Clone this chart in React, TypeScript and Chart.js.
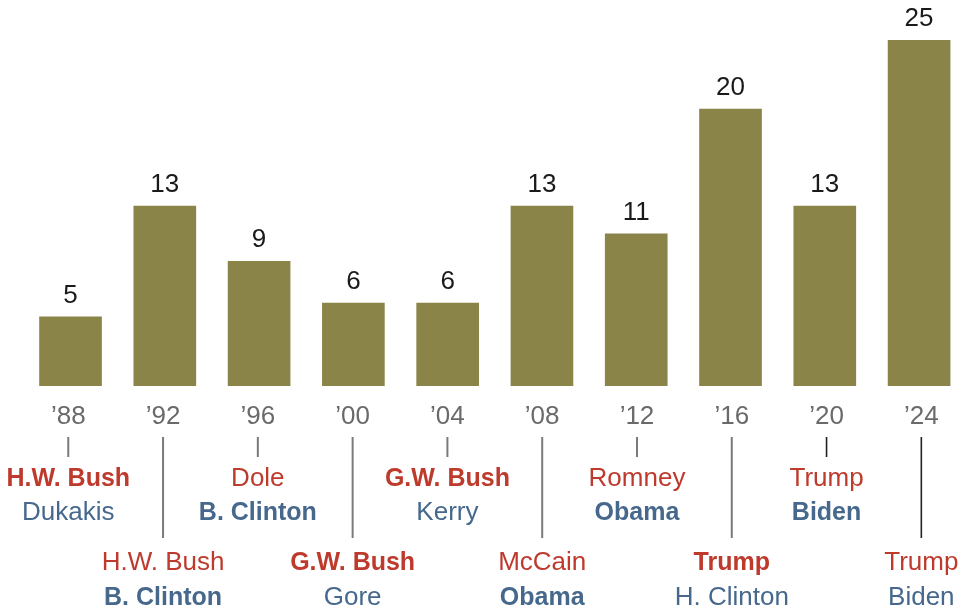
import React, { useEffect, useRef } from "react";
import { Chart, registerables } from "chart.js";

Chart.register(...registerables);

const years = ["\u201988", "\u201992", "\u201996", "\u201900", "\u201904", "\u201908", "\u201912", "\u201916", "\u201920", "\u201924"];
const values = [5, 13, 9, 6, 6, 13, 11, 20, 13, 25];
const repNames = ["H.W. Bush", "H.W. Bush", "Dole", "G.W. Bush", "G.W. Bush", "McCain", "Romney", "Trump", "Trump", "Trump"];
const demNames = ["Dukakis", "B. Clinton", "B. Clinton", "Gore", "Kerry", "Obama", "Obama", "H. Clinton", "Biden", "Biden"];
const winners = ["R", "D", "D", "R", "R", "D", "D", "R", "D", ""];

const BAR = "#8a8449";
const RED = "#bd3a2c";
const BLUE = "#46688c";
const YEAR_GRAY = "#6a6a6a";
const FONT = '"Liberation Sans", Arial, sans-serif';

const labelsPlugin = {
  id: "customLabels",
  afterDraw(chart: any) {
    const ctx = chart.ctx;
    const meta = chart.getDatasetMeta(0);
    const xs = chart.scales.x;
    ctx.save();
    ctx.textAlign = "center";
    ctx.textBaseline = "alphabetic";
    meta.data.forEach((bar: any, i: number) => {
      ctx.fillStyle = "#1a1a1a";
      ctx.font = `26px ${FONT}`;
      ctx.fillText(String(values[i]), bar.x, bar.y - 14);
    });
    for (let i = 0; i < years.length; i++) {
      const x = xs.getPixelForValue(i) + (i - 4.5) * 0.5;
      ctx.fillStyle = YEAR_GRAY;
      ctx.font = `26px ${FONT}`;
      ctx.fillText(years[i], x, 424);
      const lower = i % 2 === 1;
      ctx.beginPath();
      ctx.strokeStyle = i >= 8 ? "#222222" : "#7a7a7a";
      ctx.lineWidth = i >= 8 ? 1.6 : 2;
      ctx.moveTo(x, 437);
      ctx.lineTo(x, lower ? 538 : 457);
      ctx.stroke();
      const y1 = lower ? 570 : 486;
      const y2 = lower ? 605 : 520;
      ctx.fillStyle = RED;
      ctx.font = winners[i] === "R" ? `bold 25px ${FONT}` : `26px ${FONT}`;
      ctx.fillText(repNames[i], x, y1);
      ctx.fillStyle = BLUE;
      ctx.font = winners[i] === "D" ? `bold 25px ${FONT}` : `26px ${FONT}`;
      ctx.fillText(demNames[i], x, y2);
    }
    ctx.restore();
  },
};

export default function App() {
  const ref = useRef<HTMLCanvasElement>(null);
  useEffect(() => {
    document.body.style.margin = "0";
    const chart = new Chart(ref.current!, {
      type: "bar",
      data: {
        datasets: [
          {
            data: values.map((v, i) => ({ x: i, y: v })),
            backgroundColor: BAR,
            borderWidth: 0,
            barThickness: 62,
          },
        ],
      },
      options: {
        animation: false,
        responsive: false,
        maintainAspectRatio: false,
        layout: { padding: { top: 40, bottom: 223, left: 0, right: 0 } },
        plugins: { legend: { display: false }, tooltip: { enabled: false } },
        scales: {
          x: { type: "linear", min: -0.748, max: 9.434, offset: false, bounds: "data", display: false, grid: { display: false, offset: false } },
          y: { min: 0, max: 25, display: false, grid: { display: false } },
        },
      },
      plugins: [labelsPlugin],
    });
    return () => chart.destroy();
  }, []);
  return (
    <div style={{ width: 960, height: 609, overflow: "hidden", background: "#fff" }}>
      <canvas ref={ref} width={960} height={609} style={{ display: "block" }} />
    </div>
  );
}
